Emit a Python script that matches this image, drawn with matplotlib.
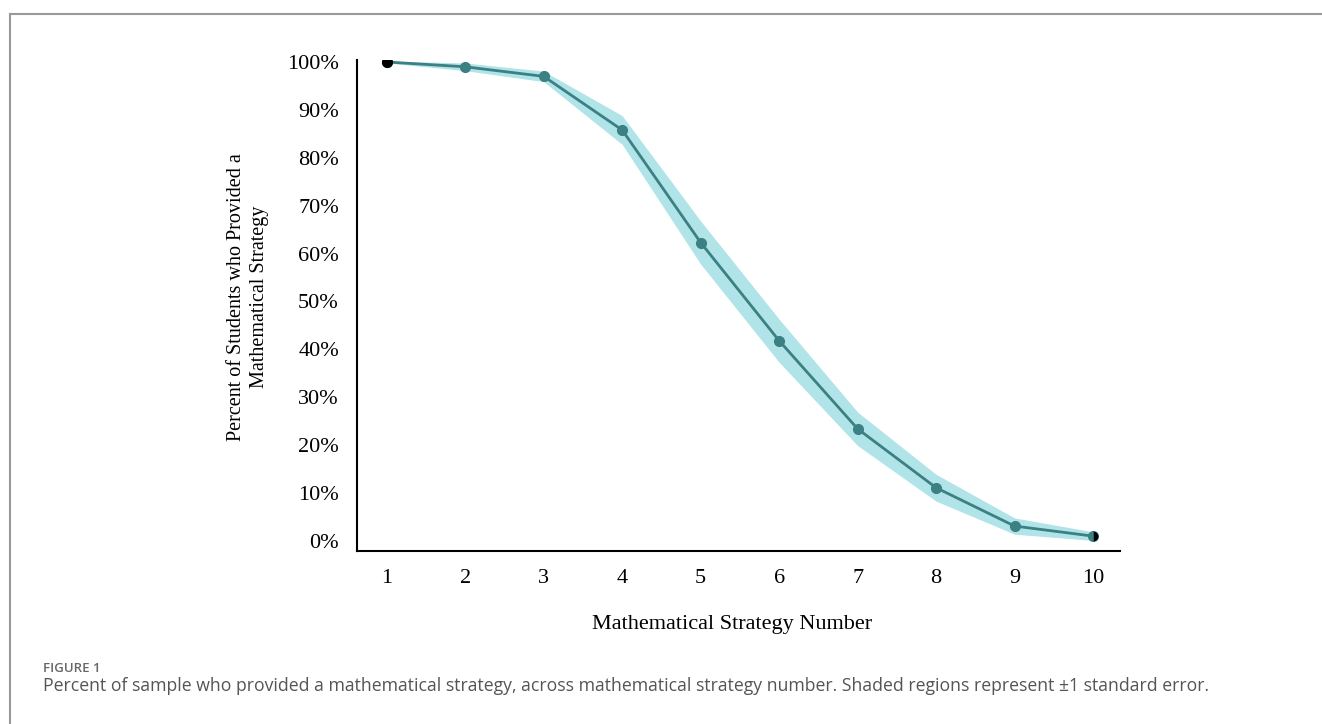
import matplotlib.pyplot as plt
from matplotlib.ticker import PercentFormatter
from matplotlib.lines import Line2D

strategy = [1, 2, 3, 4, 5, 6, 7, 8, 9, 10]
percent = [1.00, 0.99, 0.97, 0.858, 0.623, 0.418, 0.234, 0.111, 0.031, 0.010]
std_err = [0.002, 0.008, 0.011, 0.030, 0.045, 0.045, 0.035, 0.028, 0.017, 0.009]

serif = 'Liberation Serif'
teal = '#3b8083'
band = '#b1e4e8'

fig = plt.figure(figsize=(13.22, 7.24), dpi=100)
ax = fig.add_axes([0.270, 0.239, 0.577, 0.678])

lo = [p - e for p, e in zip(percent, std_err)]
hi = [p + e for p, e in zip(percent, std_err)]
ax.fill_between(strategy, lo, hi, color=band, linewidth=0)
ax.plot(strategy, percent, color=teal, linewidth=2, marker='o', markersize=7)
# endpoints drawn darker like the original
ax.plot([strategy[0]], [percent[0]], 'o', color='black', markersize=7)
ax.plot([strategy[-1]], [percent[-1]], 'o', color='black', markersize=7,
        fillstyle='right', markerfacecoloralt=teal, markeredgewidth=0)

ax.set_xlim(0.62, 10.34)
ax.set_ylim(-0.021, 1.004)
ax.set_xticks(strategy)
ax.set_yticks([i / 10 for i in range(11)])
ax.yaxis.set_major_formatter(PercentFormatter(1.0, decimals=0))
ax.tick_params(length=0, labelsize=16, pad=13)
for lab in ax.get_xticklabels() + ax.get_yticklabels():
    lab.set_fontfamily(serif)
for s in ['top', 'right']:
    ax.spines[s].set_visible(False)
for s in ['left', 'bottom']:
    ax.spines[s].set_linewidth(1.5)

fig.text(0.5537, 0.138, 'Mathematical Strategy Number', ha='center', va='center',
         fontsize=16, family=serif)
fig.text(0.1876, 0.59, 'Percent of Students who Provided a\nMathematical Strategy',
         ha='center', va='center', rotation=90, fontsize=14.5, family=serif,
         linespacing=1.35)

fig.text(0.0325, 0.077, 'FIGURE 1', fontsize=9.5, color='#666666', family='Open Sans',
         weight='semibold', va='center')
fig.text(0.0325, 0.052, 'Percent of sample who provided a mathematical strategy, across '
         'mathematical strategy number. Shaded regions represent \u00b11 standard error.',
         fontsize=12.7, color='#555555', family='Open Sans', va='center')

# thin gray frame at top and left
fig.add_artist(Line2D([0.0075, 1.0], [0.981, 0.981], color='#999999', linewidth=1.5,
                      transform=fig.transFigure))
fig.add_artist(Line2D([0.0075, 0.0075], [0.0, 0.981], color='#999999', linewidth=1.5,
                      transform=fig.transFigure))

fig.savefig('out.png', dpi=100)
